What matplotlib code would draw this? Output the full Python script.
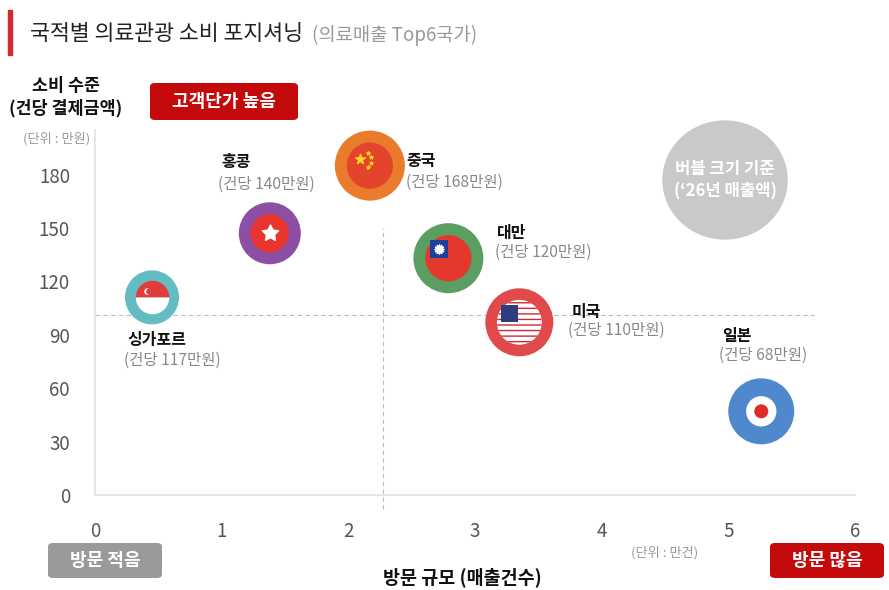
import matplotlib
matplotlib.use("Agg")
import matplotlib.pyplot as plt
from matplotlib.patches import FancyBboxPatch
from matplotlib.transforms import offset_copy

plt.rcParams['font.family'] = ['Noto Sans CJK KR', 'DejaVu Sans']

# data
countries = ["싱가포르", "홍콩", "중국", "대만", "미국", "일본"]
visits = [0.45, 1.38, 2.17, 2.79, 3.35, 5.26]          # 만건
spend = [111, 147, 185, 133, 97, 47]                    # 만원 (bubble position)
spend_labels = ["(건당 117만원)", "(건당 140만원)", "(건당 168만원)",
                "(건당 120만원)", "(건당 110만원)", "(건당 68만원)"]
bubble = [54, 62, 70, 70, 68, 66]                       # relative '26 revenue
x_ticks = [0, 1, 2, 3, 4, 5, 6]
y_ticks = [0, 30, 60, 90, 120, 150, 180]
avg_x = 2.27
avg_y = 101

ring_colors = ["#62bcc2", "#8c4fa3", "#ea7a2c", "#5a9e62", "#e04a4a", "#4f88cc"]

DPI = 100
W, H = 889, 590
P = 72 / DPI  # px -> points

fig = plt.figure(figsize=(W / DPI, H / DPI), dpi=DPI)
fig.patch.set_facecolor("white")


def fx(px):
    return px / W


def fy(py):
    return 1 - py / H


ax = fig.add_axes([fx(95), fy(495), fx(855) - fx(95), fy(130) - fy(495)])
ax.set_xlim(0, 6)
ax.set_ylim(0, 205)
for s in ["top", "right"]:
    ax.spines[s].set_visible(False)
for s in ["left", "bottom"]:
    ax.spines[s].set_color("#e2e2e2")
    ax.spines[s].set_linewidth(1.2)
ax.set_xticks(x_ticks)
ax.set_yticks(y_ticks)
ax.tick_params(length=0, colors="#555555", labelsize=13.5)
ax.tick_params(axis="x", pad=19)
ax.tick_params(axis="y", pad=18)

# average lines
ax.plot([avg_x, avg_x], [-8, 150], ls=(0, (4, 3)), color="#bbbbbb", lw=0.8, clip_on=False, zorder=1)
ax.plot([0, 5.68], [avg_y, avg_y], ls=(0, (4, 3)), color="#bbbbbb", lw=0.8, zorder=1)


def off(dx, dy):
    return offset_copy(ax.transData, fig=fig, x=dx * P, y=dy * P, units="points")


# bubbles
for i in range(len(countries)):
    ax.scatter([visits[i]], [spend[i]], s=(bubble[i] * P) ** 2, color=ring_colors[i],
               edgecolors="none", zorder=3)

inner = [0.62, 0.62, 0.66, 0.66, 0.66, 0.46]

# Singapore
d = bubble[0] * inner[0] * P
ax.plot([visits[0]], [spend[0]], "o", markersize=d, fillstyle="top", markerfacecolor="#e23b3e",
        markerfacecoloralt="white", markeredgewidth=0, zorder=4)
ax.scatter([visits[0]], [spend[0]], s=14, marker="o", color="white", transform=off(-5, 6), zorder=5)
ax.scatter([visits[0]], [spend[0]], s=14, marker="o", color="#e23b3e", transform=off(-3, 6), zorder=5)

# Hong Kong
ax.scatter([visits[1]], [spend[1]], s=(bubble[1] * inner[1] * P) ** 2, color="#e8352e",
           edgecolors="none", zorder=4)
ax.scatter([visits[1]], [spend[1]], s=150, marker=(5, 1), color="white", zorder=5)

# China
ax.scatter([visits[2]], [spend[2]], s=(bubble[2] * inner[2] * P) ** 2, color="#e4432c",
           edgecolors="none", zorder=4)
ax.scatter([visits[2]], [spend[2]], s=55, marker="*", color="#ffd21f", transform=off(-10, 7), zorder=5)
for ddx, ddy in [(-2, 13), (1, 9), (1, 3), (-2, -1)]:
    ax.scatter([visits[2]], [spend[2]], s=6, marker="*", color="#ffd21f", transform=off(ddx, ddy), zorder=5)

# Taiwan
r = bubble[3] * inner[3] / 2
ax.scatter([visits[3]], [spend[3]], s=(2 * r * P) ** 2, color="#e4382f", edgecolors="none", zorder=4)
ax.scatter([visits[3]], [spend[3]], s=(0.8 * r * P) ** 2, marker="s", color="#1f3f9c",
           edgecolors="none", transform=off(-0.4 * r, 0.4 * r), zorder=5)
ax.scatter([visits[3]], [spend[3]], s=45, marker=(12, 1), color="white",
           transform=off(-0.4 * r, 0.4 * r), zorder=6)

# USA
r = bubble[4] * inner[4] / 2
ax.scatter([visits[4]], [spend[4]], s=(2 * r * P) ** 2, facecolor="white", edgecolors="#cc2a36",
           linewidths=0, hatch="---", zorder=4)
ax.scatter([visits[4]], [spend[4]], s=(0.75 * r * P) ** 2, marker="s", color="#2c3d80",
           edgecolors="none", transform=off(-0.45 * r, 0.38 * r), zorder=5)

# Japan
ax.scatter([visits[5]], [spend[5]], s=(bubble[5] * inner[5] * P) ** 2, color="white",
           edgecolors="none", zorder=4)
ax.scatter([visits[5]], [spend[5]], s=(14 * P) ** 2, color="#e02a2a", edgecolors="none", zorder=5)

# labels (offsets in px from bubble centre)
name_off = [(-25, -43), (-48, 71), (37, 5), (49, 25), (52, 10), (-39, 75)]
val_off = [(-28, -63), (-52, 49), (36, -17), (47, 6), (49, -8), (-42, 56)]
for i in range(len(countries)):
    ax.annotate(countries[i], (visits[i], spend[i]), xytext=(name_off[i][0] * P, name_off[i][1] * P),
                textcoords="offset points", ha="left", va="center", fontsize=11.5,
                fontweight="bold", color="#111111", zorder=6)
    ax.annotate(spend_labels[i], (visits[i], spend[i]), xytext=(val_off[i][0] * P, val_off[i][1] * P),
                textcoords="offset points", ha="left", va="center", fontsize=11.2,
                color="#888888", zorder=6)

# legend bubble
fig.patches.append(matplotlib.patches.Ellipse((fx(725), fy(180)), fx(124), 118 / H,
                                              transform=fig.transFigure, color="#c9c9c9", zorder=2))
fig.text(fx(725), fy(180), "버블 크기 기준\n(‘26년 매출액)", ha="center", va="center",
         fontsize=12, fontweight="bold", color="white", linespacing=1.3, zorder=3)

# title
fig.patches.append(matplotlib.patches.Rectangle((fx(8), fy(55)), fx(4), 45 / H,
                                                transform=fig.transFigure, color="#d62630"))
fig.text(fx(30), fy(34), "국적별 의료관광 소비 포지셔닝", ha="left", va="center",
         fontsize=15.6, color="#222222", fontweight="medium")
fig.text(fx(312), fy(35), "(의료매출 Top6국가)", ha="left", va="center",
         fontsize=13.5, color="#999999")

# y axis title
fig.text(fx(66), fy(97), "소비 수준\n(건당 결제금액)", ha="center", va="center",
         fontsize=12.5, fontweight="bold", color="#111111", linespacing=1.25)
fig.text(fx(57), fy(139), "(단위 : 만원)", ha="center", va="center", fontsize=9.5, color="#999999")


def tag(x0, y0, x1, y1, text, color):
    box = FancyBboxPatch((fx(x0), fy(y1)), fx(x1 - x0), (y1 - y0) / H,
                         boxstyle="round,pad=0,rounding_size=0.006", transform=fig.transFigure,
                         facecolor=color, edgecolor="none")
    fig.patches.append(box)
    fig.text(fx((x0 + x1) / 2), fy((y0 + y1) / 2), text, ha="center", va="center",
             fontsize=13, color="white", fontweight="bold")


tag(150, 83, 298, 120, "고객단가 높음", "#c40a0a")
tag(48, 543, 162, 578, "방문 적음", "#9a9a9a")
tag(770, 543, 884, 578, "방문 많음", "#c40a0a")

fig.text(fx(462), fy(577), "방문 규모 (매출건수)", ha="center", va="center",
         fontsize=13.3, fontweight="bold", color="#111111")
fig.text(fx(665), fy(553), "(단위 : 만건)", ha="center", va="center", fontsize=9.5, color="#999999")

fig.savefig("out.png", dpi=DPI, facecolor="white")
